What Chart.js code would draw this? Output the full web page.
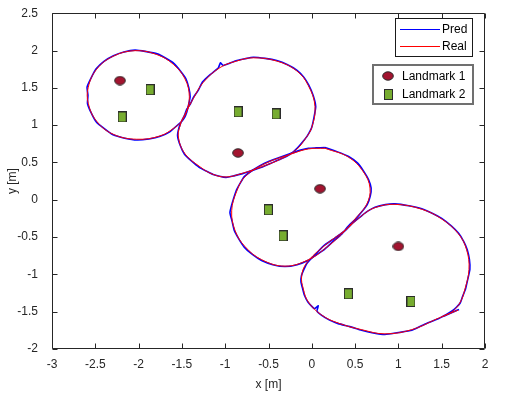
<!DOCTYPE html>
<html><head><meta charset="utf-8">
<script src="https://cdn.jsdelivr.net/npm/chart.js@4.4.0/dist/chart.umd.min.js"></script>
<style>html,body{margin:0;padding:0;background:#fff}#wrap{width:520px;height:393px;position:relative}</style>
</head><body><div id="wrap"><canvas id="c" width="520" height="393"></canvas></div>
<script>
// ---- tick labels ----
const xTickValues = [-3,-2.5,-2,-1.5,-1,-0.5,0,0.5,1,1.5,2];
const xTickLabels = ['-3','-2.5','-2','-1.5','-1','-0.5','0','0.5','1','1.5','2'];
const yTickValues = [-2,-1.5,-1,-0.5,0,0.5,1,1.5,2,2.5];
const yTickLabels = ['-2','-1.5','-1','-0.5','0','0.5','1','1.5','2','2.5'];
const seriesNames = ['Pred','Real','Landmark 1','Landmark 2'];

// ---- Real trajectory (red), one array per loop, [x, y] ----
const realLoop1 = [[-1.51,1.04],[-1.453,1.161],[-1.414,1.379],[-1.464,1.619],[-1.599,1.815],[-1.791,1.946],[-2.042,1.998],[-2.292,1.924],[-2.484,1.750],[-2.581,1.509],[-2.581,1.292],[-2.484,1.051],[-2.292,0.877],[-2.022,0.811],[-1.753,0.855],[-1.58,0.97],[-1.51,1.04]];
const realLoop2 = [[-1.51,1.04],[-1.44,1.20],[-1.368,1.357],[-1.252,1.575],[-1.06,1.771],[-0.867,1.859],[-0.675,1.902],[-0.406,1.859],[-0.175,1.728],[-0.040,1.531],[0.037,1.248],[-0.002,0.964],[-0.079,0.812],[-0.18,0.67],[-0.35,0.55],[-0.579,0.441],[-0.80,0.355],[-0.99,0.305],[-1.15,0.345],[-1.29,0.441],[-1.464,0.615],[-1.542,0.855],[-1.51,1.04]];
const realLoop3 = [[0.152,0.690],[0.422,0.572],[0.595,0.375],[0.672,0.157],[0.634,-0.061],[0.499,-0.258],[0.345,-0.460],[0.152,-0.655],[-0.040,-0.805],[-0.309,-0.890],[-0.579,-0.803],[-0.771,-0.628],[-0.887,-0.410],[-0.925,-0.148],[-0.867,0.114],[-0.771,0.310],[-0.540,0.484],[-0.232,0.615],[-0.040,0.681],[0.152,0.690]];
const realLoop4 = [[1.69,-1.48],[1.58,-1.53],[1.461,-1.588],[1.153,-1.741],[0.845,-1.797],[0.576,-1.741],[0.306,-1.653],[0.114,-1.545],[-0.040,-1.370],[-0.098,-1.195],[-0.117,-1.021],[-0.059,-0.847],[0.152,-0.610],[0.383,-0.410],[0.576,-0.214],[0.730,-0.105],[0.961,-0.061],[1.269,-0.127],[1.500,-0.258],[1.692,-0.454],[1.788,-0.671],[1.815,-0.933],[1.769,-1.195],[1.711,-1.38],[1.62,-1.50],[1.50,-1.57]];

// ---- Pred trajectory (blue), one array per loop, [x, y] ----
const predLoop1 = [[-1.50,1.05],[-1.47,1.10],[-1.445,1.17],[-1.425,1.26],[-1.405,1.38],[-1.42,1.50],[-1.455,1.625],[-1.52,1.73],[-1.59,1.825],[-1.69,1.90],[-1.785,1.955],[-1.91,1.985],[-2.04,2.005],[-2.17,1.98],[-2.29,1.93],[-2.40,1.855],[-2.49,1.755],[-2.545,1.64],[-2.595,1.51],[-2.585,1.40],[-2.59,1.29],[-2.55,1.17],[-2.49,1.045],[-2.40,0.955],[-2.295,0.87],[-2.16,0.825],[-2.02,0.80],[-1.88,0.815],[-1.75,0.85],[-1.64,0.91],[-1.575,0.975],[-1.51,1.04]];
const predLoop2 = [[-1.51,1.04],[-1.47,1.13],[-1.445,1.21],[-1.40,1.29],[-1.37,1.365],[-1.31,1.47],[-1.26,1.58],[-1.17,1.68],[-1.08,1.765],[-1.055,1.835],[-1.025,1.80],[-0.95,1.83],[-0.865,1.865],[-0.77,1.89],[-0.675,1.91],[-0.54,1.895],[-0.405,1.865],[-0.28,1.81],[-0.17,1.735],[-0.09,1.64],[-0.035,1.535],[0.015,1.40],[0.045,1.25],[0.025,1.10],[-0.002,0.965],[-0.05,0.86],[-0.085,0.805],[-0.17,0.69],[-0.25,0.61],[-0.36,0.545],[-0.47,0.49],[-0.58,0.435],[-0.70,0.39],[-0.80,0.35],[-0.90,0.32],[-0.99,0.30],[-1.13,0.335],[-1.21,0.38],[-1.30,0.435],[-1.39,0.52],[-1.47,0.61],[-1.52,0.73],[-1.55,0.86],[-1.535,0.96],[-1.51,1.04]];
const predLoop3 = [[0.15,0.70],[0.29,0.645],[0.425,0.58],[0.53,0.49],[0.60,0.38],[0.655,0.27],[0.685,0.155],[0.675,0.05],[0.64,-0.065],[0.575,-0.165],[0.50,-0.265],[0.42,-0.355],[0.345,-0.46],[0.25,-0.555],[0.15,-0.66],[0.05,-0.74],[-0.04,-0.81],[-0.17,-0.87],[-0.31,-0.895],[-0.45,-0.87],[-0.58,-0.815],[-0.69,-0.73],[-0.78,-0.635],[-0.845,-0.52],[-0.895,-0.41],[-0.92,-0.29],[-0.945,-0.17],[-0.915,-0.03],[-0.875,0.115],[-0.83,0.215],[-0.78,0.31],[-0.67,0.405],[-0.545,0.49],[-0.39,0.56],[-0.23,0.625],[-0.13,0.665],[-0.04,0.69],[0.05,0.695],[0.15,0.70]];
const predLoop4 = [[1.70,-1.47],[1.64,-1.50],[1.575,-1.535],[1.52,-1.56],[1.46,-1.595],[1.31,-1.665],[1.155,-1.75],[1.00,-1.78],[0.845,-1.805],[0.71,-1.785],[0.575,-1.75],[0.44,-1.70],[0.305,-1.66],[0.20,-1.61],[0.115,-1.55],[0.06,-1.49],[0.075,-1.42],[0.03,-1.46],[-0.045,-1.37],[-0.085,-1.28],[-0.105,-1.195],[-0.125,-1.10],[-0.12,-1.02],[-0.09,-0.93],[-0.055,-0.85],[0.05,-0.72],[0.15,-0.605],[0.27,-0.51],[0.385,-0.415],[0.48,-0.305],[0.575,-0.215],[0.65,-0.15],[0.73,-0.10],[0.85,-0.065],[0.96,-0.055],[1.12,-0.08],[1.27,-0.12],[1.39,-0.18],[1.50,-0.25],[1.61,-0.35],[1.695,-0.45],[1.755,-0.56],[1.795,-0.67],[1.82,-0.80],[1.825,-0.935],[1.80,-1.07],[1.775,-1.195],[1.74,-1.30],[1.715,-1.38],[1.67,-1.44],[1.62,-1.49],[1.55,-1.54],[1.50,-1.57]];

// ---- Landmarks ----
const landmark1 = [[-2.215,1.597],[-0.852,0.628],[0.095,0.148],[0.999,-0.625]];
const landmark2 = [[-1.868,1.475],[-2.190,1.109],[-0.852,1.178],[-0.413,1.150],[-0.502,-0.135],[-0.332,-0.484],[0.422,-1.261],[1.145,-1.363]];

// ---- colours ----
const predColor = '#0000ff', realColor = '#ff0000';
const lm1Fill = '#a2142f', lm2Fill = '#77ac30', markerEdge = '#2b2b2b';
const axisColor = '#262626';
const FONT = '"Liberation Sans", Arial, Helvetica, sans-serif';

function makeEllipse(){
  const c = document.createElement('canvas'); c.width = 12; c.height = 10;
  const g = c.getContext('2d');
  g.beginPath(); g.ellipse(6,5,5.3,4.2,0,0,Math.PI*2);
  g.fillStyle = lm1Fill; g.fill(); g.lineWidth = 1; g.strokeStyle = markerEdge; g.stroke();
  return c;
}
function makeSquare(){
  const c = document.createElement('canvas'); c.width = 9; c.height = 11;
  const g = c.getContext('2d');
  g.fillStyle = lm2Fill; g.fillRect(0.5,0.5,8,10);
  g.lineWidth = 1; g.strokeStyle = markerEdge; g.strokeRect(0.5,0.5,8,10);
  return c;
}
const ellipseImg = makeEllipse();
const squareImg = makeSquare();
const toPts = arr => arr.map(p => ({x:p[0], y:p[1]}));

const lineSet = (name, arr, color, width, tension, order) => ({
  label: name, data: toPts(arr), showLine: true, borderColor: color, backgroundColor: color,
  borderWidth: width, pointRadius: 0, pointHoverRadius: 0, tension: tension, order: order, fill: false
});

const datasets = [
  lineSet(seriesNames[0], predLoop1, predColor, 1.6, 0.15, 3),
  lineSet(seriesNames[0], predLoop2, predColor, 1.6, 0.15, 3),
  lineSet(seriesNames[0], predLoop3, predColor, 1.6, 0.15, 3),
  lineSet(seriesNames[0], predLoop4, predColor, 1.6, 0.15, 3),
  lineSet(seriesNames[1], realLoop1, realColor, 1, 0.4, 2),
  lineSet(seriesNames[1], realLoop2, realColor, 1, 0.4, 2),
  lineSet(seriesNames[1], realLoop3, realColor, 1, 0.4, 2),
  lineSet(seriesNames[1], realLoop4, realColor, 1, 0.4, 2),
  {label: seriesNames[2], data: toPts(landmark1), showLine:false, pointStyle: ellipseImg, pointRadius: 6, order: 1},
  {label: seriesNames[3], data: toPts(landmark2), showLine:false, pointStyle: squareImg, pointRadius: 6, order: 0}
];

const frame = {
  id: 'frame',
  afterDatasetsDraw(chart){
    const {ctx, chartArea: a, scales} = chart;
    ctx.save();
    ctx.strokeStyle = axisColor; ctx.lineWidth = 1;
    const L = Math.round(a.left)+0.5, R = Math.round(a.right)-0.5, T = Math.round(a.top)+0.5, B = Math.round(a.bottom)-0.5;
    ctx.beginPath();
    ctx.rect(L, T, R-L, B-T);
    const tl = 5;
    xTickValues.forEach(v => {
      const px = Math.round(scales.x.getPixelForValue(v)) + 0.5;
      ctx.moveTo(px, B); ctx.lineTo(px, B - tl);
      ctx.moveTo(px, T); ctx.lineTo(px, T + tl);
    });
    yTickValues.forEach(v => {
      const py = Math.round(scales.y.getPixelForValue(v)) + 0.5;
      ctx.moveTo(L, py); ctx.lineTo(L + tl, py);
      ctx.moveTo(R, py); ctx.lineTo(R - tl, py);
    });
    ctx.stroke();
    ctx.restore();
  },
  afterDraw(chart){
    const ctx = chart.ctx;
    ctx.save();
    ctx.font = '12px ' + FONT;
    ctx.textBaseline = 'middle'; ctx.textAlign = 'left';
    // legend 1
    ctx.fillStyle = '#fff'; ctx.fillRect(395, 18, 78, 39);
    ctx.strokeStyle = '#1a1a1a'; ctx.lineWidth = 1; ctx.strokeRect(395.5, 18.5, 77, 38);
    ctx.lineWidth = 1;
    ctx.strokeStyle = predColor; ctx.beginPath(); ctx.moveTo(400, 29.5); ctx.lineTo(440, 29.5); ctx.stroke();
    ctx.strokeStyle = realColor; ctx.beginPath(); ctx.moveTo(400, 46.5); ctx.lineTo(440, 46.5); ctx.stroke();
    ctx.fillStyle = '#000';
    ctx.fillText(seriesNames[0], 442, 30);
    ctx.fillText(seriesNames[1], 442, 47);
    // legend 2
    ctx.fillStyle = '#fff'; ctx.fillRect(373, 65, 100, 39);
    ctx.strokeStyle = '#707070'; ctx.lineWidth = 2; ctx.strokeRect(373, 65, 100, 39);
    ctx.drawImage(ellipseImg, 388 - 6, 76 - 5);
    ctx.drawImage(squareImg, 388 - 4, 94 - 5);
    ctx.fillStyle = '#000';
    ctx.fillText(seriesNames[2], 402, 77);
    ctx.fillText(seriesNames[3], 402, 95);
    ctx.restore();
  }
};

const tickFont = {family: FONT, size: 12};
new Chart(document.getElementById('c'), {
  type: 'scatter',
  data: {datasets},
  options: {
    responsive: false, animation: false, devicePixelRatio: 1,
    layout: {padding: {top: 6, right: 35, left: 0, bottom: 0}},
    plugins: {legend: {display: false}, tooltip: {enabled: false}},
    scales: {
      x: {
        type: 'linear', min: -3, max: 2,
        afterBuildTicks: s => { s.ticks = xTickValues.map(v => ({value: v})); },
        ticks: {font: tickFont, color: axisColor, padding: 0, maxRotation: 0, autoSkip: false,
          callback: (v) => xTickLabels[xTickValues.indexOf(v)]},
        grid: {display: false}, border: {display: false},
        title: {display: true, text: 'x [m]', font: tickFont, color: axisColor, padding: {top: 0, bottom: 1}},
        afterFit: s => { s.height = 44; }
      },
      y: {
        type: 'linear', min: -2, max: 2.5,
        afterBuildTicks: s => { s.ticks = yTickValues.map(v => ({value: v})); },
        ticks: {font: tickFont, color: axisColor, padding: 6, autoSkip: false,
          callback: (v) => yTickLabels[yTickValues.indexOf(v)]},
        grid: {display: false}, border: {display: false},
        title: {display: true, text: 'y [m]', font: tickFont, color: axisColor, padding: {top: 5, bottom: 0}},
        afterFit: s => { s.width = 52; }
      }
    }
  },
  plugins: [frame]
});
</script>
</body></html>
